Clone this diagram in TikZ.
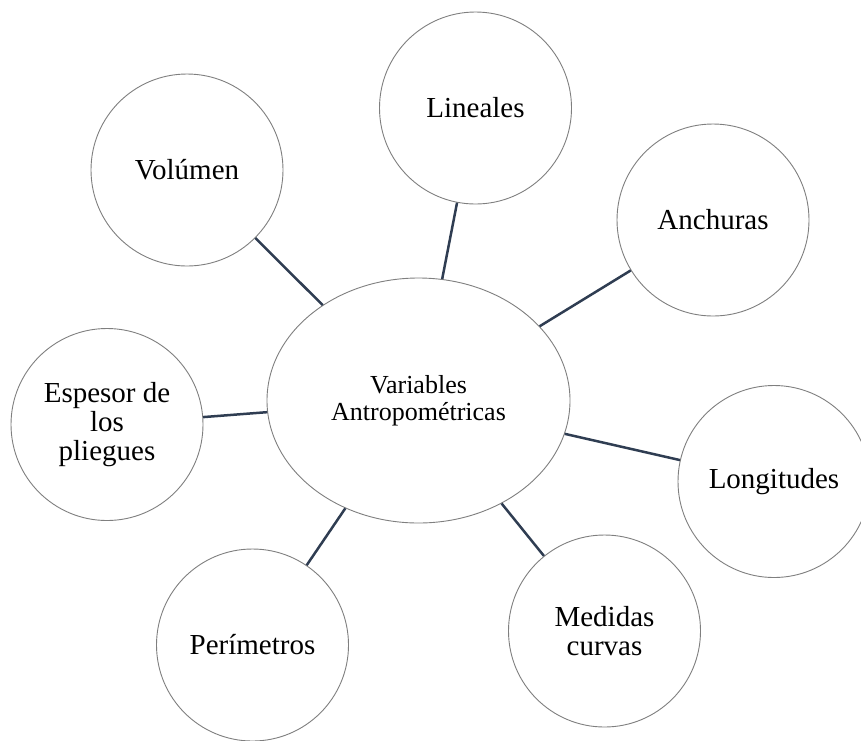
\documentclass[tikz,border=0pt]{standalone}
\usepackage{fontspec}
\setmainfont{Liberation Serif}
\usetikzlibrary{shapes.geometric}
\definecolor{linkcol}{HTML}{2F3D52}
\definecolor{rimcol}{HTML}{7F7F7F}
\tikzset{
  bubble/.style={circle, draw=rimcol, line width=0.9pt, fill=white, minimum size=192pt, inner sep=0pt, align=center, font=\fontsize{29}{29}\selectfont},
  hub/.style={ellipse, draw=rimcol, line width=0.9pt, fill=white, minimum width=303pt, minimum height=245pt, inner sep=0pt, align=center, font=\fontsize{26}{27}\selectfont},
  link/.style={draw=linkcol, line width=2.5pt}
}
\begin{document}
\begin{tikzpicture}[x=1pt, y=-1pt]
\useasboundingbox (0,0) rectangle (861,740);
\node[hub] (c) at (418.5,400.5) {Variables\\Antropométricas};
\node[bubble] (vol) at (187,170) {Volúmen};
\node[bubble] (lin) at (475.5,108) {Lineales};
\node[bubble] (anc) at (713,220) {Anchuras};
\node[bubble] (esp) at (107,424.5) {Espesor de\\los\\pliegues};
\node[bubble] (lon) at (774,481.5) {Longitudes};
\node[bubble] (med) at (604.5,631) {Medidas\\curvas};
\node[bubble] (per) at (252.5,645) {Perímetros};
\foreach \n in {vol,lin,anc,esp,lon,med,per}{
  \draw[link] (\n) -- (c);
}
\end{tikzpicture}
\end{document}
